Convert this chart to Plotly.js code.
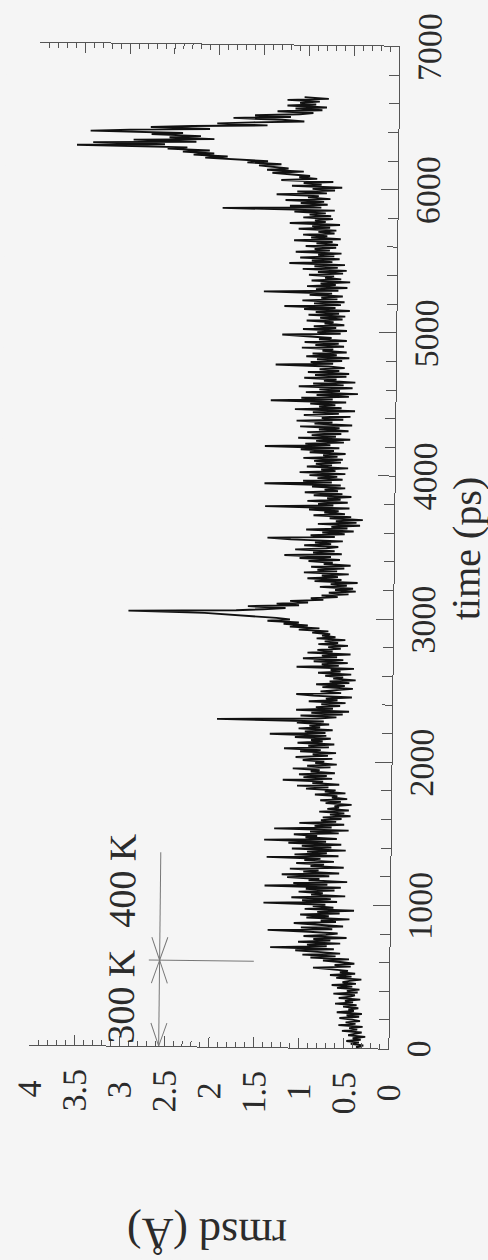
<!DOCTYPE html>
<html>
<head>
<meta charset="utf-8">
<script src="https://cdn.plot.ly/plotly-3.0.1.min.js"></script>
<style>
  html, body { margin:0; padding:0; width:488px; height:1260px; overflow:hidden; background:#f5f5f5; }
  #chart { position:absolute; left:-386px; top:386px; width:1260px; height:488px;
           transform: rotate(-89.37deg); transform-origin: 50% 50%; }
</style>
</head>
<body>
<div id="chart"></div>
<script>
// ---- data (rmsd in Å, sampled every 10 ps from 0 ps) ----
const sampleStep = 10;
const rmsd = [
0.30,0.36,0.28,0.42,0.33,0.47,0.31,0.40,0.26,0.45,
0.38,0.30,0.52,0.35,0.44,0.29,0.56,0.37,0.48,0.32,
0.41,0.55,0.33,0.47,0.30,0.58,0.39,0.45,0.34,0.51,
0.36,0.60,0.40,0.49,0.32,0.56,0.43,0.38,0.62,0.35,
0.47,0.33,0.58,0.41,0.64,0.37,0.52,0.44,0.31,0.59,
0.42,0.66,0.38,0.55,0.46,0.70,0.85,0.43,0.61,0.39,
0.52,0.74,0.45,0.88,0.60,0.97,0.55,0.80,1.05,0.62,
1.33,0.70,0.92,0.55,1.02,0.66,0.85,0.48,0.96,0.71,
0.58,0.90,1.36,0.64,0.99,0.52,0.83,1.07,0.60,0.77,
0.45,0.93,0.68,1.00,0.56,0.81,0.40,0.95,0.63,0.86,
0.72,1.41,0.59,0.98,0.66,1.10,0.50,0.88,0.75,1.02,
0.62,0.94,0.55,1.40,0.70,1.08,0.48,0.91,0.79,1.15,
0.68,1.21,0.57,0.97,0.80,1.12,0.52,0.89,0.74,1.05,
0.63,0.96,0.78,1.38,0.58,1.07,0.71,0.93,0.50,1.10,
0.66,0.99,0.55,1.14,0.72,1.41,0.60,0.95,0.82,1.08,
0.58,0.90,0.47,1.30,0.66,0.85,0.52,1.02,0.61,0.78,
0.55,0.76,0.45,0.68,0.52,0.80,0.47,0.71,0.58,0.63,
0.44,0.73,0.56,0.79,0.49,0.66,0.60,0.85,0.51,0.74,
0.62,0.95,0.70,1.05,0.58,0.88,0.76,1.21,0.66,0.98,
0.72,1.03,0.63,0.90,0.80,1.10,0.68,0.94,0.61,0.85,
0.75,0.99,0.66,1.07,0.71,0.88,0.62,1.02,0.79,1.20,
0.70,0.93,0.64,1.05,0.77,0.90,0.68,1.08,0.73,1.36,
0.74,0.97,0.66,1.04,0.80,0.92,0.70,1.06,0.76,1.95,
0.83,0.62,1.02,0.55,0.90,0.48,1.07,0.66,0.85,0.58,
0.79,0.52,0.93,0.61,0.74,0.45,0.88,1.07,0.57,0.80,
0.62,0.44,0.78,0.53,0.85,0.48,0.70,0.41,0.66,0.55,
0.75,0.46,0.83,0.58,0.69,0.43,1.07,0.60,0.79,0.50,
0.88,0.55,1.00,0.62,0.79,0.47,0.95,0.67,0.84,0.58,
0.72,0.50,0.83,0.61,0.76,0.53,0.85,0.64,0.79,0.70,
0.90,0.72,1.05,0.82,1.15,0.95,1.22,1.05,1.40,1.15,
1.30,1.55,1.80,2.10,2.95,1.75,1.45,1.20,1.62,1.05,
1.30,0.95,1.15,0.78,0.92,0.62,0.80,0.50,0.72,0.42,
0.65,0.45,0.82,0.52,0.70,0.40,0.88,0.58,0.96,0.62,
0.80,0.50,1.00,0.63,0.85,0.55,0.92,0.48,0.78,0.68,
0.95,0.60,1.05,0.70,1.22,0.58,0.90,0.66,1.10,0.75,
0.62,1.00,0.70,0.88,0.57,1.15,1.41,0.66,0.93,0.55,
0.80,0.45,0.98,0.52,0.70,0.38,0.85,0.42,0.65,0.35,
0.72,0.48,0.90,0.55,0.78,0.62,0.95,0.50,1.44,0.68,
0.85,0.52,0.97,0.60,0.75,0.48,0.90,0.58,1.00,0.63,
0.78,0.55,0.92,0.60,1.45,0.70,1.02,0.58,0.86,0.64,
0.95,0.55,1.06,0.66,0.82,0.52,0.98,0.70,0.88,0.60,
0.90,0.58,1.02,0.64,0.80,0.55,0.95,0.68,1.05,0.62,
1.45,0.72,1.00,0.57,0.88,0.50,1.08,0.66,0.93,0.60,
0.98,0.52,0.85,0.62,1.06,0.48,0.90,0.70,1.10,0.58,
0.82,0.50,1.02,0.63,0.92,0.45,1.12,0.60,0.85,0.67,
0.95,0.55,1.39,0.70,1.05,0.52,0.88,0.42,1.00,0.62,
0.85,0.48,1.08,0.58,0.92,0.45,0.80,0.66,1.02,0.55,
0.90,0.52,0.98,0.63,0.85,0.57,0.75,1.34,0.70,0.95,
0.60,0.88,0.52,1.00,0.66,0.93,0.55,0.82,0.70,1.05,
0.58,0.90,0.64,1.02,0.55,0.86,0.72,0.97,1.27,0.62,
0.88,0.55,1.04,0.67,0.92,0.58,0.80,0.70,1.00,0.60,
0.85,0.57,0.98,0.64,0.90,0.52,1.03,0.68,1.25,0.62,
0.92,0.58,1.05,0.66,0.84,0.60,0.97,0.72,1.48,0.65,
0.90,0.55,1.00,0.68,0.85,0.52,0.95,0.62,0.80,0.70,
0.98,0.60,0.88,0.56,1.05,0.66,0.92,0.58,1.20,0.72,
0.95,0.64,1.08,0.70,0.88,0.62,1.13,0.75,0.92,0.68,
1.02,0.66,0.90,0.72,1.15,0.63,0.96,0.78,1.05,0.70,
0.88,0.68,1.10,0.75,0.95,0.64,1.20,0.80,0.92,0.72,
1.05,0.74,0.98,0.80,1.15,0.70,1.95,0.85,1.20,0.78,
1.08,0.82,1.25,0.75,1.00,0.88,1.35,0.79,1.12,0.70,
0.95,0.62,1.18,0.85,1.05,0.72,1.30,0.90,1.10,0.98,
1.15,1.40,1.05,1.46,1.22,1.38,1.55,1.30,1.68,1.45,
1.85,2.15,1.90,2.28,2.05,2.40,2.10,2.57,2.35,3.58,
2.60,3.40,2.25,2.95,2.05,2.55,2.20,2.75,2.40,3.43,
2.99,2.10,2.76,2.30,1.46,2.02,1.62,1.05,1.30,1.84,
1.20,1.60,1.10,0.95,1.35,0.85,1.15,0.80,1.24,0.92,
1.10,0.88,1.24,0.78,1.05
];
const time = rmsd.map((_, i) => i * sampleStep);

// ---- axes ----
const timeRange = [0, 7000];
const timeTickVals = [0, 1000, 2000, 3000, 4000, 5000, 6000, 7000];
const timeTickText = ['0', '1000', '2000', '3000', '4000', '5000', '6000', '7000'];
const rmsdRange = [0, 4];
const rmsdIntVals = [0, 1, 2, 3, 4];
const rmsdIntText = ['0', '1', '2', '3', '4'];
const rmsdHalfVals = [0.5, 1.5, 2.5, 3.5];
const rmsdHalfText = ['0.5', '1.5', '2.5', '3.5'];

// ---- temperature annotation ----
const tempLabels = ['300 K', '400 K'];
const tempLabelTime = [349, 1153];
const tempLabelRmsd = [2.99, 2.99];
const switchTime = 600;
const arrowRmsd = 2.56;
const arrowEndTime = 1355;
const switchRmsdSpan = [1.51, 2.68];

const ink = '#2b2b2b';
const axisInk = '#555';
const serif = '"Liberation Serif", "Times New Roman", serif';

const trace = {
  x: time, y: rmsd, type: 'scatter', mode: 'lines',
  line: { color: '#111', width: 1.9 }, hoverinfo: 'skip', showlegend: false
};

const commonY = {
  range: rmsdRange, showgrid: false, zeroline: false,
  showline: true, linecolor: axisInk, linewidth: 1, mirror: 'ticks',
  ticks: 'inside', ticklen: 10, tickwidth: 1, tickcolor: axisInk,
  tickfont: { family: serif, size: 34, color: ink }
};

const layout = {
  width: 1260, height: 488,
  margin: { l: 213, r: 45, t: 34, b: 95 },
  paper_bgcolor: '#f5f5f5', plot_bgcolor: 'rgba(0,0,0,0)',
  showlegend: false,
  xaxis: {
    range: timeRange, showgrid: false, zeroline: false,
    showline: true, linecolor: axisInk, linewidth: 1, mirror: false,
    tickvals: timeTickVals, ticktext: timeTickText,
    ticks: 'inside', ticklen: 17, tickwidth: 1, tickcolor: axisInk,
    minor: { dtick: 200, tick0: 0, ticks: 'inside', ticklen: 10, tickwidth: 1, tickcolor: axisInk },
    tickfont: { family: serif, size: 34, color: ink },
    ticklabelstandoff: 0,
    title: { text: 'time (ps)', font: { family: serif, size: 40, color: ink }, standoff: 12 }
  },
  yaxis: Object.assign({}, commonY, {
    tickvals: rmsdIntVals, ticktext: rmsdIntText,
    minor: { dtick: 0.1, tick0: 0, ticks: 'inside', ticklen: 5, tickwidth: 1, tickcolor: axisInk },
    ticklabelstandoff: 28,
    title: { text: 'rmsd (Å)', font: { family: serif, size: 44, color: ink }, standoff: 105 }
  }),
  yaxis2: Object.assign({}, commonY, {
    overlaying: 'y', side: 'left',
    tickvals: rmsdHalfVals, ticktext: rmsdHalfText,
    ticklabelstandoff: 16
  }),
  annotations: tempLabels.map((t, i) => ({
    x: tempLabelTime[i], y: tempLabelRmsd[i], xref: 'x', yref: 'y',
    text: t, showarrow: false,
    font: { family: serif, size: 38, color: ink }
  })),
  shapes: [
    { type: 'line', xref: 'x', yref: 'y', x0: timeRange[0], x1: arrowEndTime, y0: arrowRmsd, y1: arrowRmsd,
      line: { color: '#777', width: 1 } },
    { type: 'line', xref: 'x', yref: 'y', x0: switchTime, x1: switchTime, y0: switchRmsdSpan[0], y1: switchRmsdSpan[1],
      line: { color: '#777', width: 1 } },
    { type: 'path', xref: 'x', yref: 'y', xsizemode: 'pixel', ysizemode: 'pixel',
      xanchor: switchTime, yanchor: arrowRmsd, path: 'M-23,-8L0,0L-23,8', line: { color: '#777', width: 1 } },
    { type: 'path', xref: 'x', yref: 'y', xsizemode: 'pixel', ysizemode: 'pixel',
      xanchor: switchTime, yanchor: arrowRmsd, path: 'M23,-8L0,0L23,8', line: { color: '#777', width: 1 } },
    { type: 'path', xref: 'x', yref: 'y', xsizemode: 'pixel', ysizemode: 'pixel',
      xanchor: timeRange[0], yanchor: arrowRmsd, path: 'M23,-8L0,0L23,8', line: { color: '#777', width: 1 } }
  ]
};

Plotly.newPlot('chart', [trace, { x: [], y: [], yaxis: 'y2', type: 'scatter', showlegend: false }], layout,
  { staticPlot: true, displayModeBar: false });
</script>
</body>
</html>
